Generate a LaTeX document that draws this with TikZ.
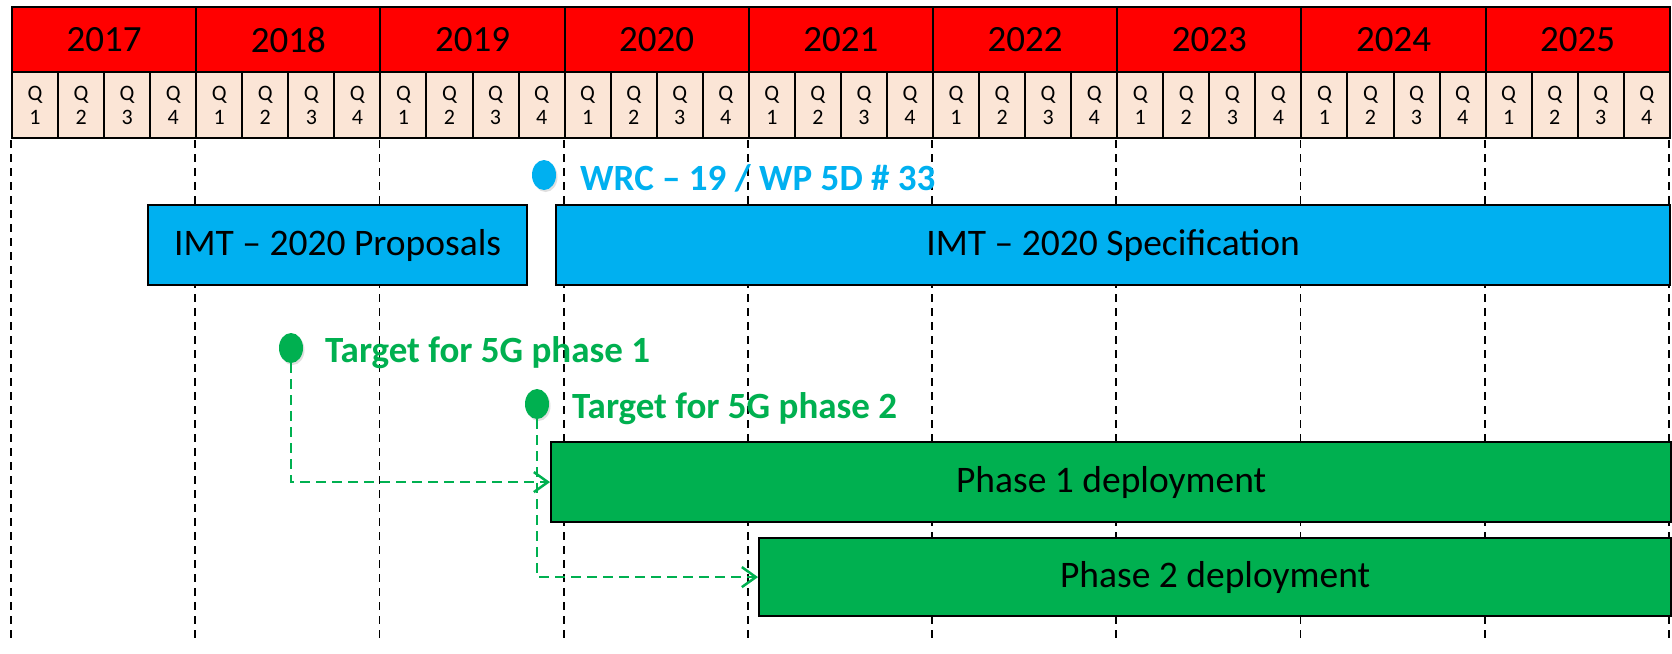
\documentclass[tikz,border=0pt]{standalone}
\usepackage{fontspec}
\setmainfont{Carlito}
\usetikzlibrary{arrows.meta,shadows,shapes.geometric}

\definecolor{yearred}{HTML}{FF0000}
\definecolor{qpeach}{HTML}{FBE5D6}
\definecolor{itublue}{HTML}{00B0F0}
\definecolor{phasegreen}{HTML}{00B050}

\tikzset{
  yearcell/.style={draw=black, line width=2pt, fill=yearred, anchor=north west,
    minimum width=184.2pt, minimum height=65pt, inner sep=0pt,
    font=\fontsize{37}{40}\selectfont},
  qcell/.style={draw=black, line width=2pt, fill=qpeach, anchor=north west,
    minimum width=46.05pt, minimum height=66pt, inner sep=0pt, align=center,
    font=\fontsize{22}{24}\selectfont},
  gridline/.style={black, line width=1.8pt, dash pattern=on 8pt off 6pt},
  bar/.style={draw=black, line width=2.2pt, anchor=north west, inner sep=0pt,
    font=\fontsize{37.5}{40}\selectfont},
  marker/.style={ellipse, minimum width=24pt, minimum height=30pt, inner sep=0pt,
    drop shadow={opacity=0.25, shadow xshift=1.5pt, shadow yshift=-2pt}},
  milestone/.style={anchor=base west, inner sep=0pt,
    font=\fontsize{37}{40}\selectfont\bfseries},
  linkarrow/.style={phasegreen, line width=2.5pt, dash pattern=on 10pt off 6pt,
    -{Straight Barb[length=14pt,width=20pt,line width=2.5pt]}},
}

\begin{document}
\begin{tikzpicture}[x=1pt, y=-1pt]
\useasboundingbox (0,0) rectangle (1672,653);
\fill[white] (0,0) rectangle (1672,653);

% year boundaries
\foreach \k in {0,...,9} {
  \coordinate (gtop\k) at ({11+184.2*\k},140);
  \coordinate (gbot\k) at ({11+184.2*\k},640);
  \draw[gridline] (gtop\k) -- (gbot\k);
}

% header: years and quarters
\foreach \yr [count=\i from 0] in {2017,...,2025} {
  \node[yearcell] (y\yr) at ({11+184.2*\i},6) {\yr};
  \foreach \q in {1,...,4} {
    \node[qcell] (q\yr-\q) at ({11+184.2*\i+46.05*(\q-1)},71) {Q\\\q};
  }
}

% ITU bars
\node[bar, fill=itublue, minimum width=379pt, minimum height=80pt] (prop) at (147,204)
  {IMT -- 2020 Proposals};
\node[bar, fill=itublue, minimum width=1114pt, minimum height=80pt] (spec) at (555,204)
  {IMT -- 2020 Specification};

% deployment bars
\node[bar, fill=phasegreen, minimum width=1120pt, minimum height=80pt] (ph1) at (550,441)
  {Phase 1 deployment};
\node[bar, fill=phasegreen, minimum width=912pt, minimum height=78pt] (ph2) at (758,537)
  {Phase 2 deployment};

% milestones
\node[marker, fill=itublue] (wrc) at (544,175) {};
\node[milestone, text=itublue] (wrclbl) at (580,190) {WRC -- 19 / WP 5D \# 33};

\node[marker, fill=phasegreen] (t1) at (291,348) {};
\node[milestone, text=phasegreen] (t1lbl) at (325,362) {Target for 5G phase 1};

\node[marker, fill=phasegreen] (t2) at (537,404) {};
\node[milestone, text=phasegreen] (t2lbl) at (572,418) {Target for 5G phase 2};

% links from targets to deployments
\draw[linkarrow] (t1.south) |- (ph1.west);
\draw[linkarrow] (t2.south) |- (ph2.west);
\end{tikzpicture}
\end{document}
